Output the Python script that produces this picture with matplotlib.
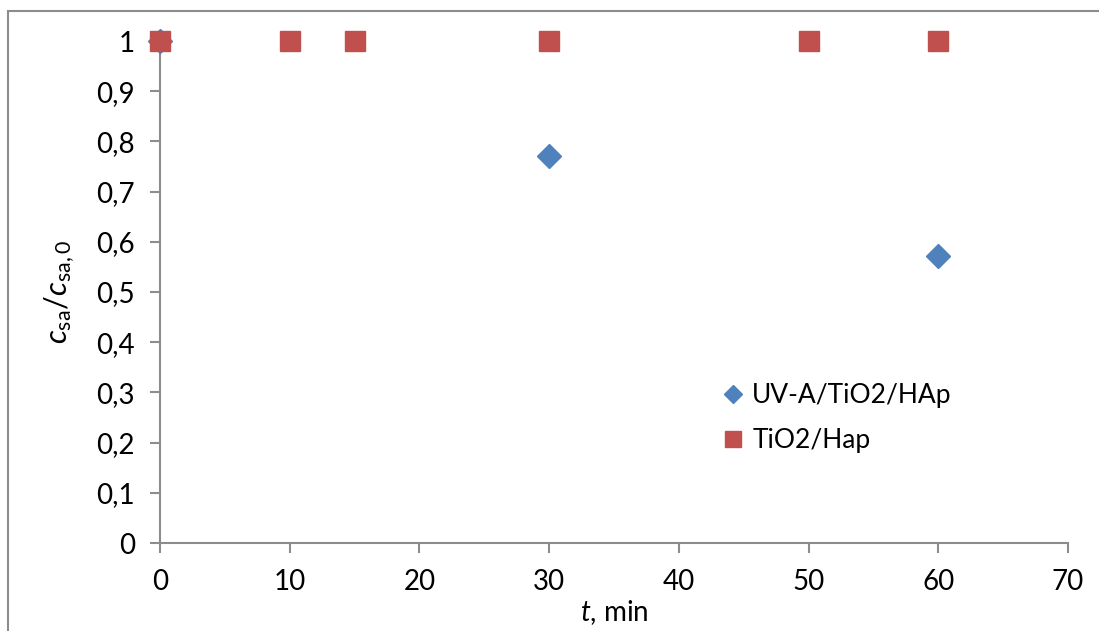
import matplotlib
matplotlib.use("Agg")
import matplotlib.pyplot as plt
from matplotlib.patches import Rectangle

# Data
uv_t = [0, 30, 60]
uv_c = [1.0, 0.77, 0.572]
dark_t = [0, 10, 15, 30, 50, 60]
dark_c = [1.0, 1.0, 1.0, 1.0, 1.0, 1.0]
x_ticks = [0, 10, 20, 30, 40, 50, 60, 70]
y_ticks = [0, 0.1, 0.2, 0.3, 0.4, 0.5, 0.6, 0.7, 0.8, 0.9, 1.0]
y_tick_labels = ["0", "0,1", "0,2", "0,3", "0,4", "0,5", "0,6", "0,7", "0,8", "0,9", "1"]
labels = ["UV-A/TiO2/HAp", "TiO2/Hap"]

plt.rcParams['font.family'] = ['Lato', 'DejaVu Sans']
plt.rcParams['mathtext.fontset'] = 'custom'
plt.rcParams['mathtext.rm'] = 'Lato'
plt.rcParams['mathtext.it'] = 'Lato:italic'

W, H = 1099, 631
fig = plt.figure(figsize=(W / 100, H / 100), dpi=100)
fig.patch.set_facecolor('white')

# outer frame
fig.patches.append(Rectangle((8 / W, -0.05), 1.2, (H - 11) / H + 0.05,
                             transform=fig.transFigure, fill=False,
                             edgecolor='#8c8c8c', linewidth=1.5))

left, right = 160 / W, 1068 / W
bottom, top = (H - 543) / H, (H - 41) / H
ax = fig.add_axes([left, bottom, right - left, top - bottom])

blue = '#4F81BD'
red = '#C0504D'
ax.plot(uv_t, uv_c, linestyle='none', marker='D', markersize=12,
        color=blue, markeredgecolor=blue, clip_on=False, zorder=3, label=labels[0])
ax.plot(dark_t, dark_c, linestyle='none', marker='s', markersize=15,
        color=red, markeredgecolor=red, clip_on=False, zorder=4, label=labels[1])

ax.set_xlim(0, 70)
ax.set_ylim(0, 1)
ax.set_xticks(x_ticks)
ax.set_yticks(y_ticks)
ax.set_yticklabels(y_tick_labels)

axis_col = '#8c8c8c'
for s in ['top', 'right']:
    ax.spines[s].set_visible(False)
for s in ['left', 'bottom']:
    ax.spines[s].set_color(axis_col)
    ax.spines[s].set_linewidth(1.5)
ax.tick_params(axis='both', direction='out', length=7, width=1.5,
               color=axis_col, labelsize=20, labelcolor='black')
ax.tick_params(axis='y', pad=11)
ax.tick_params(axis='x', pad=12)

ax.set_xlabel(r'$t$, min', fontsize=20, labelpad=2)
ax.set_ylabel(r'$c_{\rm sa}/c_{\rm sa,0}$', fontsize=22, labelpad=14)

leg = ax.legend(loc='center left', bbox_to_anchor=(722 / W, (H - 418) / H),
                bbox_transform=fig.transFigure, frameon=False, fontsize=19,
                handlelength=0.8, handletextpad=0.35, labelspacing=0.75,
                borderpad=0, borderaxespad=0, markerscale=0.75)

fig.savefig('out.png', dpi=100, facecolor='white')
